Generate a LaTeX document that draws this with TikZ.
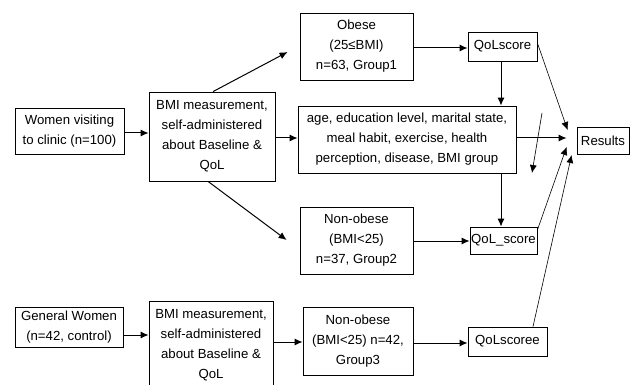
\documentclass[tikz,border=0pt]{standalone}
\usepackage{fontspec}
\setmainfont{Liberation Sans}
\usetikzlibrary{arrows.meta}
\begin{document}
\begin{tikzpicture}[x=1pt,y=-1pt,
  box/.style={draw=black,line width=0.8pt,align=center,inner sep=0pt,
    font=\fontsize{13.2}{20}\selectfont},
  arr/.style={draw=black,line width=1pt,-{Latex[length=8pt,width=7pt]}},
  ln/.style={draw=black,line width=0.6pt,-{Latex[length=8pt,width=7pt]}}]
\useasboundingbox[fill=white] (0,0) rectangle (637,385);
% nodes
\node[box,minimum width=109pt,minimum height=46pt] (women) at (69.5,131) {Women visiting\\to clinic (n=100)};
\node[box,minimum width=126pt,minimum height=89pt] (bmia) at (212,136.5) {BMI measurement,\\self-administered\\about Baseline \&\\QoL};
\node[box,minimum width=113pt,minimum height=67pt] (obese) at (356.5,46.5) {Obese\\(25≤BMI)\\n=63, Group1};
\node[box,minimum width=69pt,minimum height=29pt] (qola) at (502.5,46.5) {QoLscore};
\node[box,minimum width=218pt,minimum height=67pt] (age) at (407,139.5) {age, education level, marital state,\\meal habit, exercise, health\\perception, disease, BMI group};
\node[box,minimum width=52pt,minimum height=27pt] (res) at (603,140.5) {Results};
\node[box,minimum width=113pt,minimum height=67pt] (nonob) at (356.5,240.5) {Non-obese\\(BMI<25)\\n=37, Group2};
\node[box,minimum width=67pt,minimum height=27pt] (qolb) at (503.5,240.5) {QoL\_score};
\node[box,minimum width=108pt,minimum height=40pt] (gen) at (69,327) {General Women\\(n=42, control)};
\node[box,minimum width=124pt,minimum height=89pt] (bmib) at (211,345.5) {BMI measurement,\\self-administered\\about Baseline \&\\QoL};
\node[box,minimum width=110pt,minimum height=68pt] (grp) at (358,341) {Non-obese\\(BMI<25) n=42,\\Group3};
\node[box,minimum width=79pt,minimum height=29pt] (qolc) at (507.5,341.5) {QoLscoree};
\coordinate (fa) at (542,113);
\coordinate (fb) at (532,173);
% connectors
\draw[arr] (women.east |- 0,133) -- (bmia.west |- 0,133);
\draw[arr] ([xshift=1pt]bmia.north) -- ([xshift=-12pt,yshift=-5.5pt]obese.west);
\draw[arr] ([xshift=-4pt]bmia.south) -- ([xshift=-13pt,yshift=0.5pt]nonob.west);
\draw[arr] (bmia.east |- 0,138) -- (age.west |- 0,138);
\draw[arr] (obese.east |- 0,48) -- (qola.west |- 0,48);
\draw[arr] (qola.south -| 501,0) -- (age.north -| 501,0);
\draw[arr] (age.east |- 0,138) -- ([xshift=-10pt,yshift=2.5pt]res.west);
\draw[ln] ([yshift=3.5pt]qola.east) -- ([xshift=-9pt,yshift=10.5pt]res.west);
\draw[ln] (fa) -- (fb);
\draw[arr] (age.south -| 501,0) -- (qolb.north -| 501,0);
\draw[arr] (nonob.east |- 0,241) -- (qolb.west |- 0,241);
\draw[ln] ([yshift=10.5pt]qolb.east) -- ([xshift=-10pt,yshift=-6.5pt]res.west);
\draw[ln] ([xshift=25.5pt]qolc.north) -- ([xshift=-5pt,yshift=-14.5pt]res.west);
\draw[arr] (gen.east |- 0,335) -- (bmib.west |- 0,335);
\draw[arr] (bmib.east |- 0,342) -- (grp.west |- 0,342);
\draw[arr] (grp.east |- 0,343) -- (qolc.west |- 0,343);
\end{tikzpicture}
\end{document}
